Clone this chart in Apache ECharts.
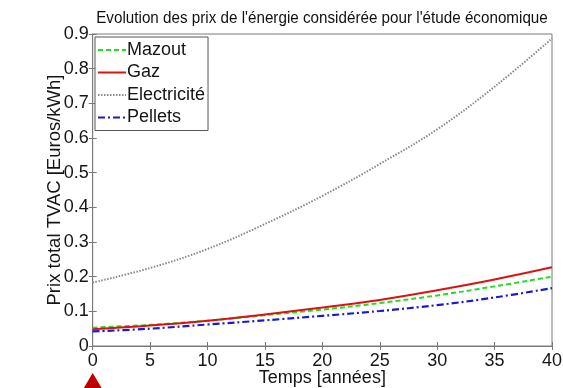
<!DOCTYPE html>
<html><head><meta charset="utf-8">
<script src="https://cdn.jsdelivr.net/npm/echarts@6/dist/echarts.min.js"></script>
<style>html,body{margin:0;padding:0;background:#fff}#c{width:563px;height:388px}</style>
</head><body><div id="c"></div>
<script>
const years = [0, 5, 10, 15, 20, 25, 30, 35, 40];
const xTicks = ['0','5','10','15','20','25','30','35','40'];
const mazout = [0.053, 0.061, 0.073, 0.089, 0.105, 0.124, 0.146, 0.172, 0.200];
const gaz = [0.048, 0.059, 0.073, 0.091, 0.111, 0.133, 0.161, 0.192, 0.227];
const electricite = [0.183, 0.225, 0.280, 0.352, 0.433, 0.525, 0.625, 0.748, 0.887];
const pellets = [0.042, 0.050, 0.062, 0.074, 0.087, 0.101, 0.118, 0.140, 0.167];
const seriesNames = ['Mazout', 'Gaz', 'Electricité', 'Pellets'];
const titleText = "Evolution des prix de l'énergie considérée pour l'étude économique";

const pair = arr => years.map((y, i) => [y, arr[i]]);
const font = 'Liberation Sans, Arial, sans-serif';
const axisGray = '#7a7a7a';
const txt = '#151515';

const chart = echarts.init(document.getElementById('c'), null, {renderer: 'canvas'});
const mk = (name, data, color, type, width) => ({
  name, type: 'line', data: pair(data), smooth: 0.4, symbol: 'none',
  lineStyle: {color, type, width}, itemStyle: {color}, z: 3
});
chart.setOption({
  animation: false,
  backgroundColor: '#fff',
  grid: {left: 92.7, right: 11, top: 34, bottom: 42, show: true, borderColor: axisGray, borderWidth: 1,
    containLabel: false, outerBoundsMode: 'none'},
  legend: {
    orient: 'vertical', left: 95, top: 37,
    data: seriesNames,
    backgroundColor: '#fff', borderColor: '#555', borderWidth: 1,
    padding: [4, 3, 4, 2], itemWidth: 28, itemHeight: 14, itemGap: 4.5,
    itemStyle: {opacity: 0},
    textStyle: {fontFamily: font, fontSize: 18, color: txt, padding: [0, 0, 0, -4]}
  },
  xAxis: [{
    type: 'value', min: 0, max: 40, interval: 5,
    name: 'Temps [années]', nameLocation: 'middle', nameGap: 23.5, nameMoveOverlap: false,
    nameTextStyle: {fontFamily: font, fontSize: 18, color: txt},
    axisLine: {show: true, lineStyle: {color: axisGray}},
    axisTick: {inside: true, length: 4, lineStyle: {color: axisGray}},
    axisLabel: {fontFamily: font, fontSize: 18, color: txt, margin: 6.5,
      formatter: v => xTicks[years.indexOf(v)] ?? String(v)},
    splitLine: {show: false}
  }, {
    type: 'value', min: 0, max: 40, interval: 5, position: 'top',
    axisLine: {show: true, lineStyle: {color: axisGray}},
    axisTick: {inside: true, length: 4, lineStyle: {color: axisGray}},
    axisLabel: {show: false}, splitLine: {show: false}
  }],
  yAxis: [{
    type: 'value', min: 0, max: 0.9, interval: 0.1,
    name: 'Prix total TVAC [Euros/kWh]', nameLocation: 'middle', nameGap: 28.5, nameMoveOverlap: false,
    nameTextStyle: {fontFamily: font, fontSize: 18.5, color: txt},
    axisLine: {show: true, lineStyle: {color: axisGray}},
    axisTick: {inside: true, length: 4, lineStyle: {color: axisGray}},
    axisLabel: {fontFamily: font, fontSize: 18, color: txt, margin: 4},
    splitLine: {show: false}
  }, {
    type: 'value', min: 0, max: 0.9, interval: 0.1, position: 'right',
    axisLine: {show: true, lineStyle: {color: axisGray}},
    axisTick: {inside: true, length: 4, lineStyle: {color: axisGray}},
    axisLabel: {show: false}, splitLine: {show: false}
  }],
  series: [
    mk('Mazout', mazout, '#22dd22', [5, 3], 2),
    mk('Gaz', gaz, '#dd1111', 'solid', 2),
    mk('Electricité', electricite, '#8a8a8a', [1.5, 1.5], 2),
    mk('Pellets', pellets, '#1a1acc', [7, 3, 2, 3], 2.2)
  ]
});
const p0 = chart.convertToPixel({xAxisIndex: 0}, 0);
chart.setOption({
  graphic: [{
    type: 'text', x: 322, y: 18, scaleX: 0.895, z: 10,
    style: {text: titleText, fontFamily: font, fontSize: 17, fill: '#111',
      textAlign: 'center', textVerticalAlign: 'middle'}
  }, {
    type: 'polygon', z: 10,
    shape: {points: [[p0, 373], [p0 - 9.5, 389], [p0 + 9.5, 389]]},
    style: {fill: '#c00000'}
  }]
});
</script>
</body></html>
